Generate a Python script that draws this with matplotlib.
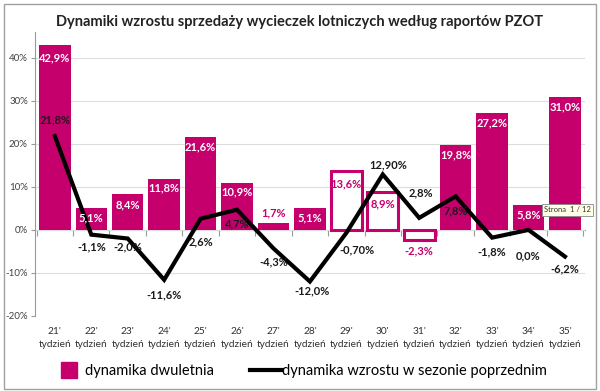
import numpy as np
import matplotlib
matplotlib.use('Agg')
import matplotlib.pyplot as plt
from matplotlib.patches import Rectangle
from matplotlib.lines import Line2D

plt.rcParams['font.family'] = ['Lato', 'DejaVu Sans']

# dane
weeks = ["21'", "22'", "23'", "24'", "25'", "26'", "27'", "28'",
         "29'", "30'", "31'", "32'", "33'", "34'", "35'"]
two_year = [42.9, 5.1, 8.4, 11.8, 21.6, 10.9, 1.7, 5.1,
            13.6, 8.9, -2.3, 19.8, 27.2, 5.8, 31.0]
prev_season = [21.8, -1.1, -2.0, -11.6, 2.6, 4.7, -4.3, -12.0,
               -0.7, 12.9, 2.8, 7.8, -1.8, 0.0, -6.2]
two_year_txt = ["42,9%", "5,1%", "8,4%", "11,8%", "21,6%", "10,9%", "1,7%", "5,1%",
                "13,6%", "8,9%", "-2,3%", "19,8%", "27,2%", "5,8%", "31,0%"]
prev_txt = ["21,8%", "-1,1%", "-2,0%", "-11,6%", "2,6%", "4,7%", "-4,3%", "-12,0%",
            "-0,70%", "12,90%", "2,8%", "7,8%", "-1,8%", "0,0%", "-6,2%"]
hollow = [False] * 8 + [True, True, True] + [False] * 4

MAGENTA = '#C5006C'

# przesunięcia etykiet (piksele)
bar_off = [-12, -10, -11, -9, -10, -9, 10, -10, -12, -12, -11, -10, -10, -10, -10]
line_off = [16, -12, -8, -15, -23, -14, -13, -9, -17, 10, 25, -14, -14, -26, -12]
line_dx = [0, 0, 0, 0, 0, 0, 0, 2, 11, 5, 2, 0, 0, 0, 0]

fig = plt.figure(figsize=(6, 3.91), dpi=100)
ax = fig.add_axes([0.058, 0.192, 0.917, 0.726])

x = np.arange(len(weeks))
for i in range(len(weeks)):
    if hollow[i]:
        ax.bar(x[i], two_year[i], width=0.86, color='white', edgecolor=MAGENTA,
               linewidth=2.2, zorder=2)
    else:
        ax.bar(x[i], two_year[i], width=0.86, color=MAGENTA, zorder=2)

ax.plot(x, prev_season, color='black', linewidth=3, zorder=3,
        solid_joinstyle='miter')

for i in range(len(weeks)):
    c = MAGENTA if (hollow[i] or bar_off[i] > 0) else 'white'
    ax.annotate(two_year_txt[i], (x[i], two_year[i]), textcoords='offset pixels',
                xytext=(0, bar_off[i]), ha='center', va='center',
                fontsize=8, fontweight='bold', color=c, zorder=4)
    ax.annotate(prev_txt[i], (x[i], prev_season[i]), textcoords='offset pixels',
                xytext=(line_dx[i], line_off[i]), ha='center', va='center',
                fontsize=8, fontweight='bold', color='#1a1a1a', zorder=4)

ax.set_xlim(-0.55, len(weeks) - 0.45)
ax.set_ylim(-20, 46)
ax.set_yticks(np.arange(-20, 41, 10))
ax.set_yticklabels([f"{v}%" for v in range(-20, 41, 10)], fontsize=7, color='#404040')
ax.yaxis.grid(True, color='#dddddd', linewidth=0.8, zorder=0)
ax.set_axisbelow(True)
for s in ['top', 'right', 'bottom']:
    ax.spines[s].set_visible(False)
ax.spines['left'].set_color('#999999')
ax.tick_params(axis='y', length=3, color='#999999', pad=2)

ax.set_xticks(x)
ax.set_xticklabels([f"{w}\ntydzień" for w in weeks], fontsize=7.3, color='#303030',
                   linespacing=1.5)
ax.tick_params(axis='x', length=0, pad=8)

# oś kategorii na poziomie 0%
sec = ax.secondary_xaxis(20 / 66)
sec.set_xticks(np.arange(len(weeks) + 1) - 0.5)
sec.set_xticklabels([])
sec.tick_params(axis='x', direction='out', length=4, color='#999999')
sec.spines['bottom'].set_color('#999999')

fig.text(0.5, 0.945, "Dynamiki wzrostu sprzedaży wycieczek lotniczych według raportów PZOT",
         ha='center', va='center', fontsize=10.5, fontweight='bold', color='#222222')

handles = [Line2D([0], [0], marker='s', markersize=11, linestyle='none',
                  color=MAGENTA),
           Line2D([0], [0], color='black', linewidth=3)]
fig.legend(handles, ["dynamika dwuletnia", "dynamika wzrostu w sezonie poprzednim"],
           loc='center', bbox_to_anchor=(0.5, 0.05), ncol=2, frameon=False,
           fontsize=10.5, handlelength=2.2, handletextpad=0.0, columnspacing=2.5)

fig.text(0.985, 0.463, "Strona  1 / 12", ha='right', va='center', fontsize=5.5,
         color='#333333', bbox=dict(boxstyle='square,pad=0.3', facecolor='#ffffe6',
                                    edgecolor='#888888', linewidth=0.6))

fig.patches.append(Rectangle((0.006, 0.006), 0.988, 0.985, transform=fig.transFigure,
                             fill=False, edgecolor='#a0a0a0', linewidth=1))

fig.savefig('out.png', dpi=100)
